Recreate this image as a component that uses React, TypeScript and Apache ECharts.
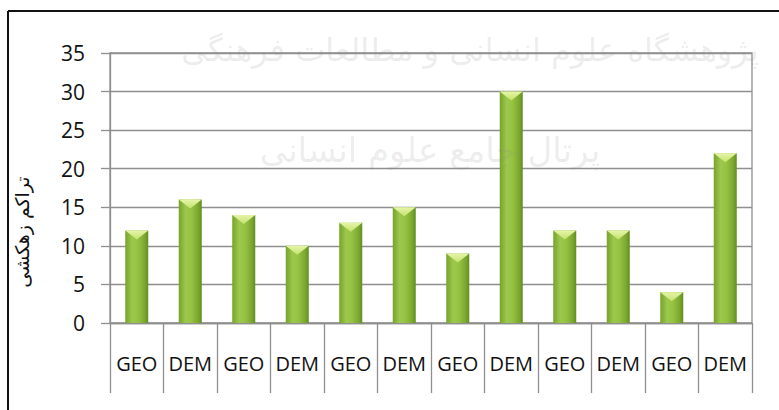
import React, { useEffect, useRef } from "react";
import * as echarts from "echarts";

const categories = ["GEO", "DEM", "GEO", "DEM", "GEO", "DEM", "GEO", "DEM", "GEO", "DEM", "GEO", "DEM"];
const values = [12, 16, 14, 10, 13, 15, 9, 30, 12, 12, 4, 22];
const yTicks = { min: 0, max: 35, interval: 5 };
const yName = "تراکم زهکشی";
const watermark1 = "پژوهشگاه علوم انسانی و مطالعات فرهنگی";
const watermark2 = "پرتال جامع علوم انسانی";

export default function App() {
  const ref = useRef<HTMLDivElement>(null);
  useEffect(() => {
    if (!ref.current) return;
    const chart = echarts.init(ref.current, null, { renderer: "svg" });
    const gray = "#8f8f8f";
    const option: any = {
      animation: false,
      backgroundColor: "#ffffff",
      grid: { left: 110, right: 27, top: 53, bottom: 87, show: true, borderColor: gray, borderWidth: 1.3, containLabel: false },
      xAxis: {
        type: "category",
        data: categories,
        boundaryGap: true,
        axisLine: { show: true, lineStyle: { color: gray, width: 1.3 } },
        axisTick: { show: true, interval: 0, length: 70, lineStyle: { color: gray, width: 1.3 } },
        axisLabel: { interval: 0, margin: 30, fontSize: 20, color: "#111", fontFamily: "Open Sans" },
        splitLine: { show: false },
      },
      yAxis: {
        type: "value",
        min: yTicks.min,
        max: yTicks.max,
        interval: yTicks.interval,
        axisLine: { show: true, lineStyle: { color: gray, width: 1.3 } },
        axisTick: { show: true, inside: false, length: 9, lineStyle: { color: gray, width: 1.3 } },
        axisLabel: { fontSize: 21, color: "#111", margin: 25, fontFamily: "Open Sans" },
        splitLine: { show: true, lineStyle: { color: gray, width: 1.3 } },
      },
      series: [
        {
          type: "custom",
          data: values.map((v, i) => [i, v]),
          encode: { x: 0, y: 1 },
          renderItem: (params: any, api: any) => {
            const i = api.value(0);
            const v = api.value(1);
            const top = api.coord([i, v]);
            const base = api.coord([i, 0]);
            const band = api.size([1, 0])[0];
            const w = band * 0.43;
            const x0 = top[0] - w / 2;
            const h = base[1] - top[1];
            const capH = Math.min(9, h);
            return {
              type: "group",
              children: [
                {
                  type: "rect",
                  shape: { x: x0, y: top[1], width: w, height: h },
                  style: {
                    fill: new echarts.graphic.LinearGradient(0, 0, 1, 0, [
                      { offset: 0, color: "#78a22c" },
                      { offset: 0.3, color: "#9cc84c" },
                      { offset: 0.55, color: "#96c244" },
                      { offset: 0.85, color: "#7ca72e" },
                      { offset: 1, color: "#618c22" },
                    ]),
                  },
                },
                {
                  type: "polygon",
                  shape: {
                    points: [
                      [x0, top[1]],
                      [x0 + w, top[1]],
                      [x0 + w / 2, top[1] + capH],
                    ],
                  },
                  style: {
                    fill: new echarts.graphic.LinearGradient(0, 0, 0, 1, [
                      { offset: 0, color: "#e6f5a8" },
                      { offset: 1, color: "#c4e270" },
                    ]),
                  },
                },
              ],
            };
          },
          z: 3,
        },
      ],
      graphic: [
        { type: "line", shape: { x1: 8, y1: 11, x2: 779, y2: 11 }, style: { stroke: "#111", lineWidth: 2 }, z: 10 },
        { type: "line", shape: { x1: 8, y1: 11, x2: 8, y2: 410 }, style: { stroke: "#111", lineWidth: 2 }, z: 10 },
        {
          type: "text",
          x: 22,
          y: 232,
          rotation: Math.PI / 2,
          style: { text: yName, fill: "#111", font: "19px 'DejaVu Sans'", textAlign: "center", textVerticalAlign: "middle" },
          z: 10,
        },
        {
          type: "text",
          x: 470,
          y: 50,
          style: { text: watermark1, fill: "rgba(140,140,140,0.16)", font: "32px 'DejaVu Sans'", textAlign: "center", textVerticalAlign: "middle" },
          z: 20,
          silent: true,
        },
        {
          type: "text",
          x: 430,
          y: 150,
          style: { text: watermark2, fill: "rgba(140,140,140,0.16)", font: "34px 'DejaVu Sans'", textAlign: "center", textVerticalAlign: "middle" },
          z: 20,
          silent: true,
        },
      ],
    };
    chart.setOption(option);
    return () => chart.dispose();
  }, []);
  return <div ref={ref} style={{ width: 779, height: 410, position: "absolute", left: 0, top: 0 }} />;
}
